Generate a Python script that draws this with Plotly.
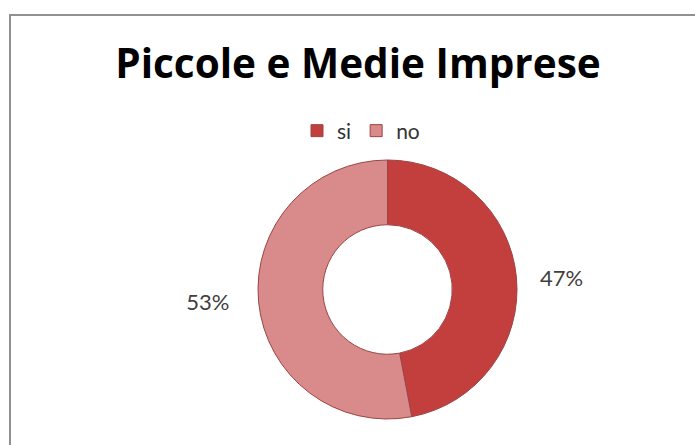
import plotly.graph_objects as go

# Quota di piccole e medie imprese: si / no
labels = ["si", "no"]
values = [47, 53]
colors = ["#C33F3E", "#D98B8B"]

W, H = 695, 445
nb = "\u00a0"

fig = go.Figure(
    go.Pie(
        labels=labels,
        values=values,
        hole=0.5,
        sort=False,
        direction="clockwise",
        rotation=0,
        marker=dict(colors=colors, line=dict(color="#9A4544", width=1)),
        texttemplate=[nb * 3 + "%{percent:.0%}", "%{percent:.0%}" + nb * 4],
        textposition="outside",
        textfont=dict(family="Lato, 'Open Sans', sans-serif", size=22, color="#404040"),
        domain=dict(x=[258 / W, 517 / W], y=[1 - 419 / H, 1 - 160 / H]),
        hoverinfo="label+percent",
    )
)

fig.update_layout(
    width=W,
    height=H,
    margin=dict(l=0, r=0, t=0, b=0),
    paper_bgcolor="white",
    plot_bgcolor="white",
    title=dict(
        text="<b>Piccole e Medie Imprese</b>",
        x=358 / W,
        xanchor="center",
        y=1 - 64 / H,
        yanchor="middle",
        font=dict(family="'Open Sans', Lato, sans-serif", size=40.5, color="#000000"),
    ),
    showlegend=True,
    legend=dict(
        orientation="h",
        x=361 / W,
        xanchor="center",
        y=1 - 131 / H,
        yanchor="middle",
        font=dict(family="Lato, 'Open Sans', sans-serif", size=21, color="#333333"),
        itemwidth=30,
        traceorder="normal",
    ),
    shapes=[
        dict(
            type="rect",
            xref="paper",
            yref="paper",
            x0=10 / W,
            x1=1.05,
            y0=-0.05,
            y1=1 - 15 / H,
            line=dict(color="#909090", width=2),
            fillcolor="rgba(0,0,0,0)",
        )
    ],
)

fig.write_html("out.html")
